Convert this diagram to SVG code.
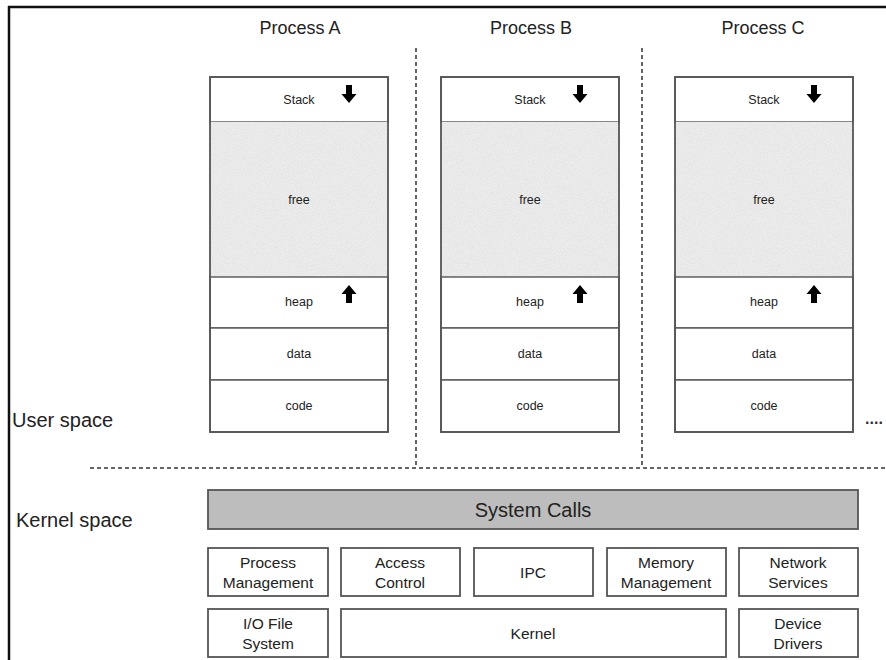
<svg xmlns="http://www.w3.org/2000/svg" width="886" height="660" viewBox="0 0 886 660">
<defs>
<style>
.t{font-family:"Liberation Sans",Arial,sans-serif;fill:#222;text-anchor:middle}
.title{font-size:18px}
.small{font-size:12.5px}
.k{font-size:15.5px}
.cell{fill:#fff;stroke:#555;stroke-width:1.4}
.box{fill:#fff;stroke:#555;stroke-width:1.8}
.dash{stroke:#333;stroke-width:1.5;stroke-dasharray:4 3;fill:none}
.arrow{fill:#000}
</style>
<filter id="noise" x="0" y="0" width="100%" height="100%">
<feTurbulence type="fractalNoise" baseFrequency="0.8" numOctaves="2" seed="3" result="n"/>
<feColorMatrix in="n" type="matrix" values="0 0 0 0 0.78  0 0 0 0 0.78  0 0 0 0 0.78  0 0 0 4 -1.7" result="c"/>
<feComposite in="c" in2="SourceGraphic" operator="in"/>
</filter>
<g id="proc">
<rect class="cell" x="0" y="0" width="178" height="45"/>
<rect x="0" y="45" width="178" height="155" fill="#ececec"/>
<rect x="0" y="45" width="178" height="155" fill="#ececec" filter="url(#noise)"/>
<rect class="cell" x="0" y="200" width="178" height="51"/>
<rect class="cell" x="0" y="251" width="178" height="52"/>
<rect class="cell" x="0" y="303" width="178" height="52"/>
<rect x="0" y="0" width="178" height="355" fill="none" stroke="#555" stroke-width="1.8"/>
<text class="t small" x="89" y="27">Stack</text>
<text class="t small" x="89" y="127">free</text>
<text class="t small" x="89" y="229">heap</text>
<text class="t small" x="89" y="281">data</text>
<text class="t small" x="89" y="333">code</text>
<path class="arrow" d="M136,8 h6 v9 h4.5 l-7.5,9 l-7.5,-9 h4.5 z"/>
<path class="arrow" d="M136,226 h6 v-9 h4.5 l-7.5,-9 l-7.5,9 h4.5 z"/>
</g>
</defs>
<rect width="886" height="660" fill="#fff"/>
<g id="frame" stroke="#111" stroke-width="2.5" fill="none">
<line x1="8" y1="7" x2="886" y2="7"/>
<line x1="9" y1="6" x2="9" y2="660"/>
</g>
<g id="connectors">
<line class="dash" x1="416" y1="48" x2="416" y2="468"/>
<line class="dash" x1="642" y1="48" x2="642" y2="468"/>
<line class="dash" x1="90" y1="468" x2="886" y2="468"/>
</g>
<g id="processA">
<text class="t title" x="300" y="34">Process A</text>
<use href="#proc" x="210" y="77"/>
</g>
<g id="processB">
<text class="t title" x="531" y="34">Process B</text>
<use href="#proc" x="441" y="77"/>
</g>
<g id="processC">
<text class="t title" x="763" y="34">Process C</text>
<use href="#proc" x="675" y="77"/>
<text x="874" y="424" style="font-family:'Liberation Sans',Arial,sans-serif;font-size:16px;font-weight:bold;fill:#333;text-anchor:middle">....</text>
</g>
<g id="labels">
<text class="t" x="12" y="427" style="font-size:20px;text-anchor:start">User space</text>
<text class="t" x="16" y="527" style="font-size:20px;text-anchor:start">Kernel space</text>
</g>
<g id="systemcalls">
<rect x="208" y="490" width="650" height="39" fill="#bdbdbd" stroke="#555" stroke-width="1.8"/>
<text class="t" x="533" y="517" style="font-size:20px">System Calls</text>
</g>
<g id="procmgmt">
<rect class="box" x="208" y="548" width="120" height="48"/>
<text class="t k" x="268" y="568">Process</text>
<text class="t k" x="268" y="588">Management</text>
</g>
<g id="access">
<rect class="box" x="341" y="548" width="119" height="48"/>
<text class="t k" x="400" y="568">Access</text>
<text class="t k" x="400" y="588">Control</text>
</g>
<g id="ipc">
<rect class="box" x="474" y="548" width="119" height="48"/>
<text class="t k" x="533" y="578">IPC</text>
</g>
<g id="memmgmt">
<rect class="box" x="607" y="548" width="119" height="48"/>
<text class="t k" x="666" y="568">Memory</text>
<text class="t k" x="666" y="588">Management</text>
</g>
<g id="netsvc">
<rect class="box" x="739" y="548" width="119" height="48"/>
<text class="t k" x="798" y="568">Network</text>
<text class="t k" x="798" y="588">Services</text>
</g>
<g id="iofs">
<rect class="box" x="208" y="609" width="120" height="48"/>
<text class="t k" x="268" y="629">I/O File</text>
<text class="t k" x="268" y="649">System</text>
</g>
<g id="kernel">
<rect class="box" x="341" y="609" width="385" height="48"/>
<text class="t k" x="533" y="639">Kernel</text>
</g>
<g id="drivers">
<rect class="box" x="739" y="609" width="119" height="48"/>
<text class="t k" x="798" y="629">Device</text>
<text class="t k" x="798" y="649">Drivers</text>
</g>
</svg>
